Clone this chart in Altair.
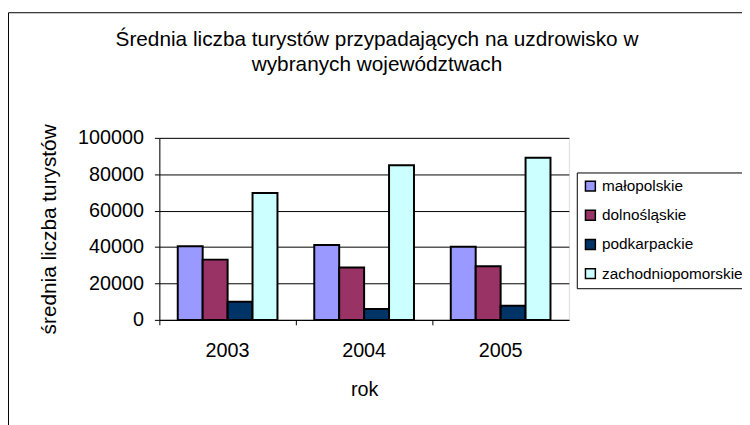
import altair as alt
import pandas as pd

years = ["2003", "2004", "2005"]
regions = ["małopolskie", "dolnośląskie", "podkarpackie", "zachodniopomorskie"]
malopolskie = [40400, 41100, 40200]
dolnoslaskie = [33100, 28800, 29500]
podkarpackie = [9900, 6000, 7800]
zachodniopomorskie = [69700, 84900, 89100]
colors = ["#9999FF", "#993366", "#003366", "#CCFFFF"]
y_ticks = [0, 20000, 40000, 60000, 80000, 100000]

rows = []
for name, vals in zip(regions, [malopolskie, dolnoslaskie, podkarpackie, zachodniopomorskie]):
    for yr, v in zip(years, vals):
        rows.append({"rok": yr, "województwo": name, "wartość": v})
df = pd.DataFrame(rows)

FONT = "Liberation Sans"

border = alt.Chart(pd.DataFrame({"k": [0]})).mark_rect(
    fill="white", fillOpacity=0, stroke="black", strokeWidth=1
).encode(
    x=alt.value(-152.5), x2=alt.value(700), y=alt.value(-126.5), y2=alt.value(400)
)

bars = alt.Chart(df).mark_bar(stroke="black", strokeWidth=2).encode(
    x=alt.X(
        "rok:N",
        sort=years,
        scale=alt.Scale(paddingInner=0, paddingOuter=0),
        axis=alt.Axis(
            title="rok", labelAngle=0, bandPosition=0,
            labelFontSize=20, labelFont=FONT, labelColor="black",
            tickSize=5, tickColor="black", labelPadding=16,
            domainColor="black", domainWidth=1,
            titleFontSize=20, titleFont=FONT, titleFontWeight="normal", titleColor="black",
            titleX=207, titleY=76, titleBaseline="alphabetic", titleAlign="center",
        ),
    ),
    xOffset=alt.XOffset(
        "województwo:N",
        sort=regions,
        scale=alt.Scale(domain=regions, paddingOuter=0.738, paddingInner=0),
    ),
    y=alt.Y(
        "wartość:Q",
        scale=alt.Scale(domain=[0, 100000], nice=False),
        axis=alt.Axis(
            title="średnia liczba turystów", values=y_ticks, format="d",
            labelFontSize=20, labelFont=FONT, labelColor="black",
            tickSize=5, tickColor="black", labelPadding=11,
            domainColor="black", domainWidth=1,
            grid=True, gridColor="black", gridWidth=1,
            titleFontSize=21, titleFont=FONT, titleFontWeight="normal", titleColor="black",
            titleX=-105, titleY=92, titleAngle=270, titleBaseline="alphabetic", titleAlign="center",
        ),
    ),
    color=alt.Color(
        "województwo:N",
        scale=alt.Scale(domain=regions, range=colors),
        legend=alt.Legend(
            title=None, orient="none", legendX=422, legendY=35,
            labelFontSize=15.5, labelFont=FONT, labelColor="black", labelOffset=4,
            symbolType="square", symbolSize=100, symbolStrokeColor="black",
            symbolStrokeWidth=1.5, symbolOpacity=1,
            padding=6, rowPadding=11.5, strokeColor="black", fillColor="white",
        ),
    ),
)

chart = alt.layer(border, bars).properties(
    width=414,
    height=184,
    autosize=alt.AutoSizeParams(type="none"),
    padding={"left": 153, "top": 129, "right": 175, "bottom": 104},
    title=alt.TitleParams(
        ["Średnia liczba turystów przypadających na uzdrowisko w", "wybranych województwach"],
        fontSize=21, font=FONT, fontWeight="normal", color="black",
        lineHeight=25, anchor="middle", frame="group", dx=13, offset=-84, baseline="bottom",
    ),
).configure_view(
    fill="#FFFF99", stroke="#808080", strokeWidth=2
).configure(background="white")

chart.save("out.html", embed_options={"renderer": "svg", "actions": False})
